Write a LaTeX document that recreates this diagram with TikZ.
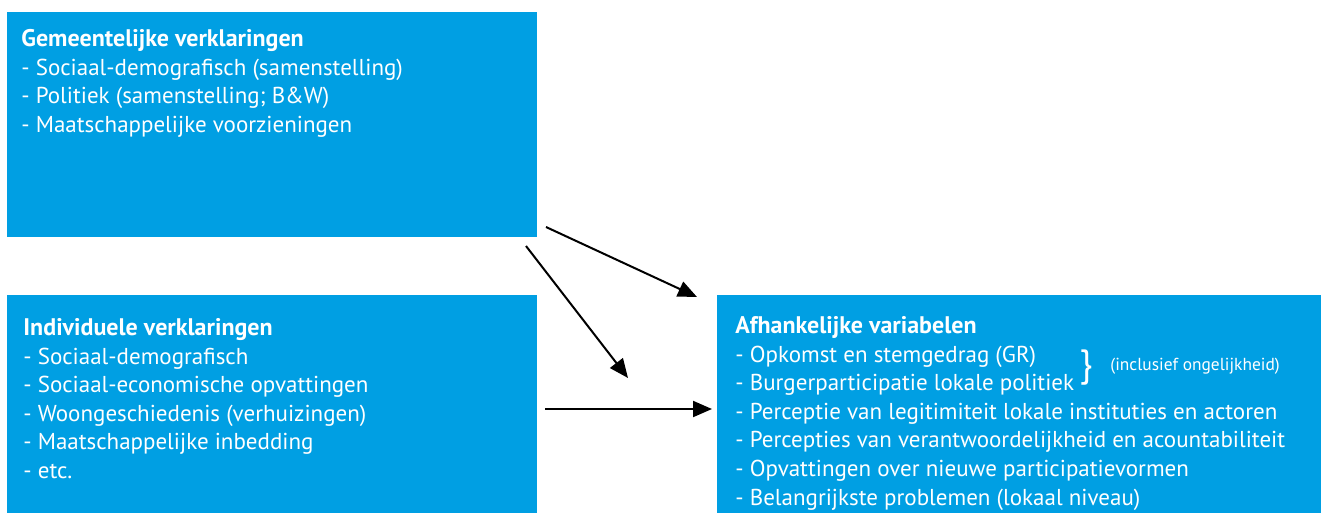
\documentclass[tikz,border=0pt]{standalone}
\usepackage{fontspec}
\setmainfont{PT Sans}
\usetikzlibrary{arrows.meta}
\definecolor{boxblue}{RGB}{0,159,227}
\newcommand{\boxtitle}[1]{{\fontsize{12}{14.25}\selectfont\bfseries #1}}
\tikzset{
  box/.style={fill=boxblue, anchor=north west, inner sep=0pt, outer sep=0pt},
  boxtext/.style={anchor=north west, align=left, text=white, inner sep=0pt,
    font=\fontsize{11.5}{14.3}\selectfont},
  flow/.style={-{Triangle[length=9.5pt,width=8pt]}, line width=1pt}
}
\begin{document}
\begin{tikzpicture}[x=0.5pt,y=-0.5pt]
  \useasboundingbox (0,0) rectangle (1321,513);
  % boxes
  \node [box, minimum width=265pt, minimum height=112.5pt] (gem) at (7,12) {};
  \node [box, minimum width=265pt, minimum height=109pt] (ind) at (7,295) {};
  \node [box, minimum width=302pt, minimum height=109pt] (afh) at (717,295) {};
  % texts
  \node [boxtext] (gemtext) at (21,29) {\boxtitle{Gemeentelijke verklaringen}\\
    - Sociaal-demografisch (samenstelling)\\
    - Politiek (samenstelling; B\&W)\\
    - Maatschappelijke voorzieningen};
  \node [boxtext] (indtext) at (23,318) {\boxtitle{Individuele verklaringen}\\
    - Sociaal-demografisch\\
    - Sociaal-economische opvattingen\\
    - Woongeschiedenis (verhuizingen)\\
    - Maatschappelijke inbedding\\
    - etc.};
  \node [boxtext] (afhtext) at (735,316) {\boxtitle{Afhankelijke variabelen}\\
    - Opkomst en stemgedrag (GR)\\
    - Burgerparticipatie lokale politiek\\
    - Perceptie van legitimiteit lokale instituties en actoren\\
    - Percepties van verantwoordelijkheid en acountabiliteit\\
    - Opvattingen over nieuwe participatievormen\\
    - Belangrijkste problemen (lokaal niveau)};
  \node [text=white, inner sep=0pt, font=\fontsize{19}{19}\selectfont] (brace) at (1086,368) {\}};
  \node [text=white, inner sep=0pt, anchor=west, font=\fontsize{8.7}{10}\selectfont] (incl) at (1110,366) {(inclusief ongelijkheid)};
  % connectors
  \coordinate (gemout) at (546,227);
  \coordinate (gemdown) at (526,246);
  \coordinate (indout) at (545,409);
  \coordinate (afhin) at (697,297);
  \coordinate (mid) at (628,378);
  \coordinate (afhleft) at (712,409);
  \draw [flow] (gemout) -- (afhin);
  \draw [flow] (gemdown) -- (mid);
  \draw [flow] (indout) -- (afhleft);
\end{tikzpicture}
\end{document}
